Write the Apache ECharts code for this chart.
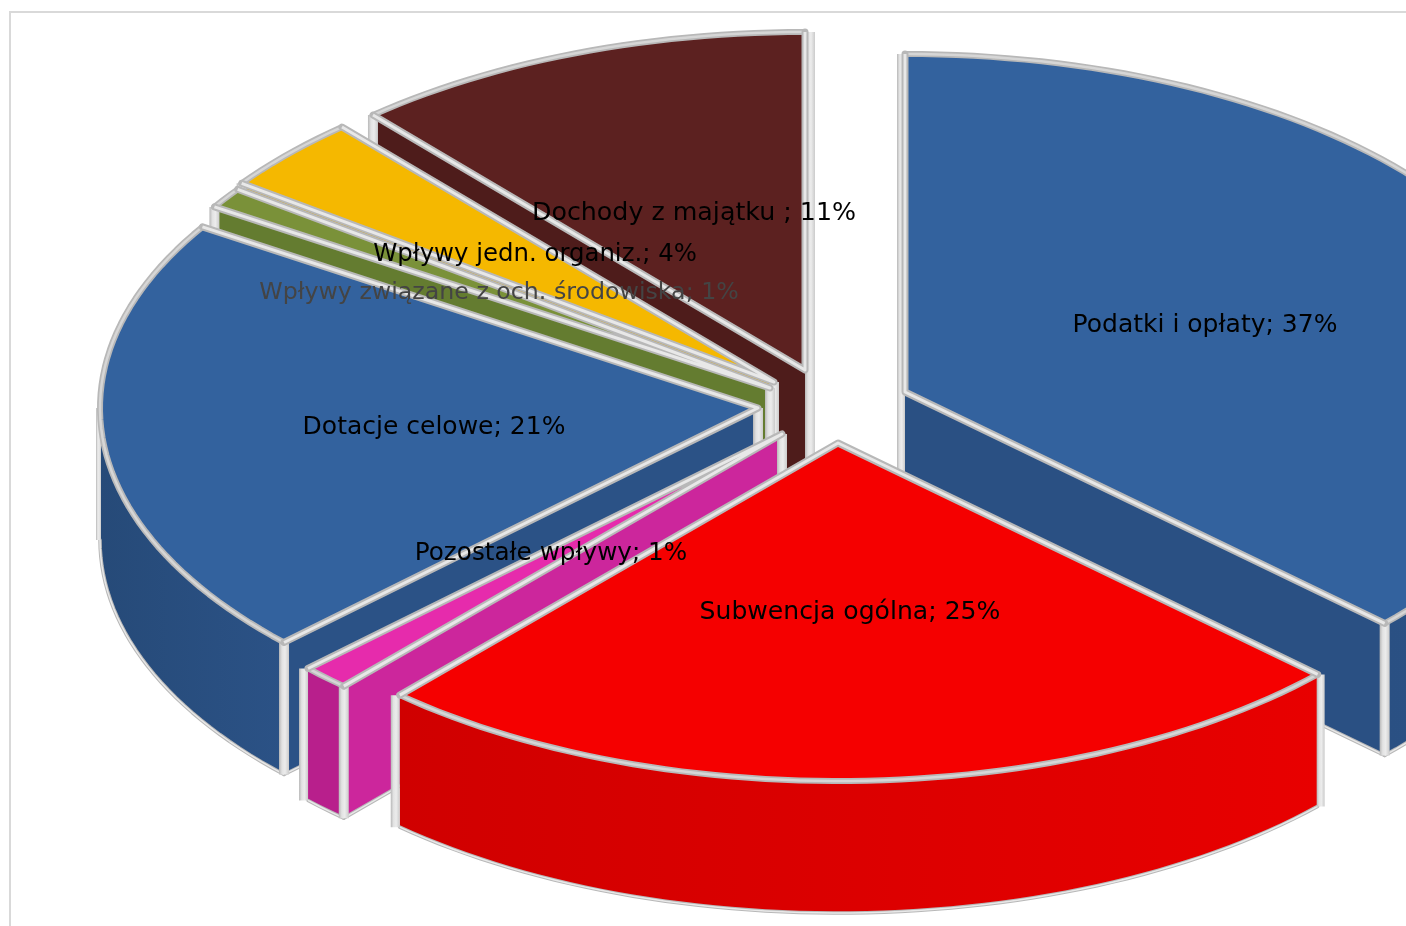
<!DOCTYPE html>
<html><head><meta charset="utf-8">
<style>html,body{margin:0;padding:0;background:#fff;overflow:hidden}#c{width:1406px;height:926px}</style>
<script src="https://cdn.jsdelivr.net/npm/echarts@6/dist/echarts.min.js"></script>
</head><body><div id="c"></div>
<script>
const categories = ['Podatki i opłaty','Subwencja ogólna','Pozostałe wpływy','Dotacje celowe','Wpływy związane z och. środowiska','Wpływy jedn. organiz.','Dochody z majątku '];
const values = [37,24.6,1.2,21.2,1,3.6,11.4];
const percentLabels = [37,25,1,21,1,4,11];
const topColors = ['#33629e','#f50000','#e62bac','#33629e','#7a9139','#f5b800','#5c2120'];
const wallColors = ['#2a5083','#dc0000','#cc269c','#2b5286','#647c30','#d9a300','#4e1c1b'];
const arcWallColors = [['#2a5083','#2b5286'],['#d00000','#e80000'],['#b81f8c','#b81f8c'],['#264a78','#2b5286'],['#647c30','#647c30'],['#d9a300','#d9a300'],['#4e1c1b','#4e1c1b']];
const apexes = [[905,392],[838,443],[782,434],[758,408],[770,388],[774,382],[805,370]];
const labelPos = [[1205,325],[850,612],[551,554],[434,427],[499,293],[535,255],[694,213]];
const labelSizes = [25,25.1,24.7,25,23.7,24.4,25.3];
const labelColors = ['#000','#000','#000','#000','#444','#000','#000'];
const drawOrder = [6,5,4,3,2,0,1];
const RX = 658, RY = 338, DEPTH = 132;
const total = values.reduce((a,b)=>a+b,0);
const starts = []; values.reduce((a,v,i)=>{starts[i]=a/total*360;return a+v;},0);
const rad = d=>d*Math.PI/180;
const pt = (ap,t)=>[ap[0]+RX*Math.sin(rad(t)), ap[1]-RY*Math.cos(rad(t))];
const arc = (ap,a,b)=>{const n=Math.max(2,Math.ceil((b-a)/1.5));const r=[];for(let k=0;k<=n;k++)r.push(pt(ap,a+(b-a)*k/n));return r;};
const down = p=>[p[0],p[1]+DEPTH];
const G = echarts.graphic;
const poly = (pts,fill)=>({type:'polygon',shape:{points:pts},style:{fill:fill,stroke:fill,lineWidth:.5}});
function edge(pts,w,out,inner){
  out.push({type:'polyline',shape:{points:pts},style:{fill:'none',stroke:'#b8b8b8',lineWidth:w,lineJoin:'round',lineCap:'round'}});
  out.push({type:'polyline',shape:{points:pts},style:{fill:'none',stroke:inner||'#e8e8e8',lineWidth:w*0.42,lineJoin:'round'}});
}
function strip(x,y0,y1,out,dx0,dx1){
  dx0=dx0===undefined?-5:dx0; dx1=dx1===undefined?5:dx1;
  out.push({type:'rect',shape:{x:x+dx0,y:y0,width:dx1-dx0,height:y1-y0},style:{fill:new G.LinearGradient(0,0,1,0,[{offset:0,color:'#b8b8b8'},{offset:.3,color:'#e2e2e2'},{offset:.6,color:'#ececec'},{offset:1,color:'#cbcbcb'}])}});
}
function renderSlice(params,api){
  const i=api.value(0), v=api.value(1), ap=apexes[i];
  const a=starts[i], b=a+v/total*360, out=[];
  const p0=pt(ap,a), p1=pt(ap,b), apD=down(ap);
  const arcPts=arc(ap,a,b);
  const a2=Math.max(a,90), b2=Math.min(b,270);
  if(a>=180&&a<360){
    out.push(poly([ap,p0,down(p0),apD],wallColors[i]));
    edge([down(p0),apD],3.5,out);
  }
  if(b>0&&b<180){
    out.push(poly([ap,p1,down(p1),apD],wallColors[i]));
    edge([down(p1),apD],3.5,out);
  }
  if(a2<b2){
    const top=arc(ap,a2,b2), bot=top.map(down).reverse();
    const c=arcWallColors[i];
    out.push({type:'polygon',shape:{points:top.concat(bot)},style:{fill:new G.LinearGradient(0,0,1,0,[{offset:0,color:c[0]},{offset:1,color:c[1]}])}});
    edge(top.map(down),3.5,out);
  }
  const last=b>=359.99;
  strip(ap[0],ap[1],apD[1],out, a===0?-8:(last?0:-5), a===0?0:(last?10:5));
  if(a>=180&&a<360) strip(p0[0],p0[1],p0[1]+DEPTH,out);
  if(b>0&&b<180) strip(p1[0],p1[1],p1[1]+DEPTH,out);
  if(a2<b2&&a2===a&&a<180) strip(p0[0],p0[1],p0[1]+DEPTH,out,-1,7);
  if(a2<b2&&b2===b&&b>180) strip(p1[0],p1[1],p1[1]+DEPTH,out,-9,0);
  if(a2<b2&&b2===270&&b>270) strip(ap[0]-RX,ap[1],ap[1]+DEPTH,out,-4,1);
  out.push(poly([ap].concat(arcPts),topColors[i]));
  if(a===0) strip(ap[0],p0[1],ap[1],out,-8,0);
  if(last) strip(ap[0],p1[1],ap[1],out,0,10);
  edge(arcPts,6,out,'#d6d6d6');
  edge([p0,ap,p1],7,out);
  return {type:'group',children:out};
}
function renderLabel(params,api){
  const i=api.value(0);
  return {type:'text',style:{text:categories[i]+'; '+percentLabels[i]+'%',x:labelPos[i][0],y:labelPos[i][1],align:'center',verticalAlign:'middle',font:labelSizes[i]+'px "DejaVu Sans"',fill:labelColors[i]}};
}
const chart=echarts.init(document.getElementById('c'),null,{renderer:'canvas'});
const rows=drawOrder.map(i=>[i,values[i]]);
chart.setOption({
  animation:false,
  backgroundColor:'#fff',
  graphic:[{type:'rect',z:0,silent:true,shape:{x:10,y:12,width:1500,height:1000},style:{fill:'none',stroke:'#d9d9d9',lineWidth:2}}],
  series:[
    {type:'custom',coordinateSystem:'none',silent:true,z:2,data:rows,renderItem:renderSlice},
    {type:'custom',coordinateSystem:'none',silent:true,z:3,data:rows,renderItem:renderLabel}
  ]
});
</script></body></html>
